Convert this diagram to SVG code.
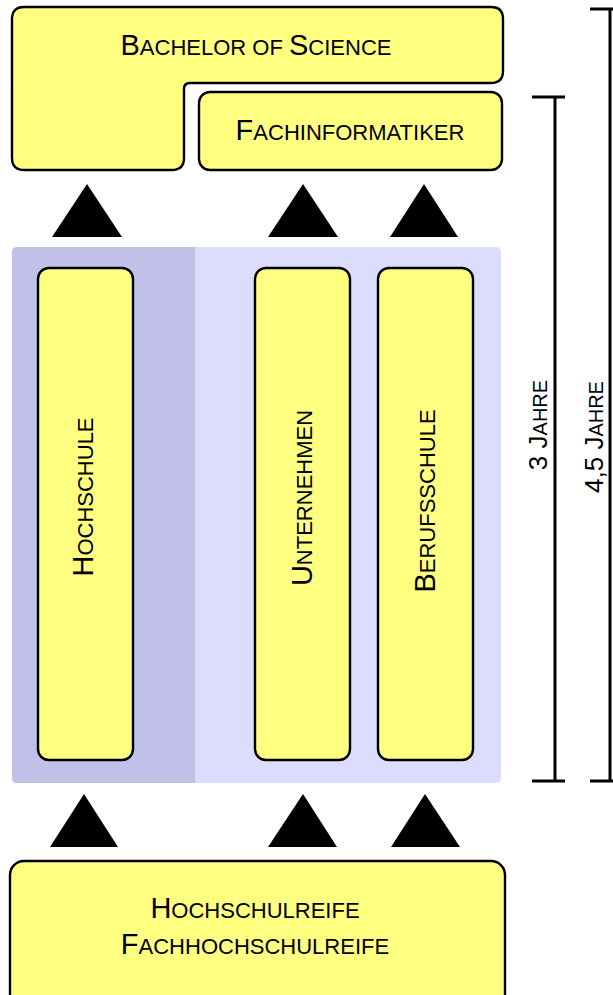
<svg xmlns="http://www.w3.org/2000/svg" width="613" height="995" viewBox="0 0 613 995">
<style>
.box{fill:#ffff80;stroke:#000;stroke-width:2.4}
.t{font-family:"Liberation Sans",Arial,sans-serif;fill:#000;text-anchor:middle}
.L{font-size:29px}
.S{font-size:22px}
.jl{font-size:26px}
.js{font-size:20px}
.tri{fill:#000}
.br{stroke:#000;stroke-width:3;fill:none}
</style>
<rect width="613" height="995" fill="#fff"/>
<g id="panel">
<rect x="12" y="247" width="489" height="536" rx="5" fill="#dcdcfc"/>
<path d="M17,247 H195 V783 H17 Q12,783 12,778 V252 Q12,247 17,247 Z" fill="#c0c0e8"/>
</g>
<g id="bachelor">
<path class="box" d="M24,7 H491 Q503,7 503,19 V71 Q503,83 491,83 H190 Q184,83 184,89 V158 Q184,170 172,170 H24 Q12,170 12,158 V19 Q12,7 24,7 Z"/>
<text class="t" x="256" y="55"><tspan class="L">B</tspan><tspan class="S">ACHELOR OF </tspan><tspan class="L">S</tspan><tspan class="S">CIENCE</tspan></text>
</g>
<g id="fachinformatiker">
<rect class="box" x="199" y="92" width="303" height="78" rx="11"/>
<text class="t" x="350" y="140"><tspan class="L">F</tspan><tspan class="S">ACHINFORMATIKER</tspan></text>
</g>
<g id="hochschule">
<rect class="box" x="38" y="268" width="95" height="492" rx="11"/>
<text class="t" transform="translate(93,497) rotate(-90)"><tspan class="L">H</tspan><tspan class="S">OCHSCHULE</tspan></text>
</g>
<g id="unternehmen">
<rect class="box" x="255" y="268" width="95" height="492" rx="11"/>
<text class="t" transform="translate(312,498) rotate(-90)"><tspan class="L">U</tspan><tspan class="S">NTERNEHMEN</tspan></text>
</g>
<g id="berufsschule">
<rect class="box" x="378" y="268" width="95" height="492" rx="11"/>
<text class="t" transform="translate(435,501) rotate(-90)"><tspan class="L">B</tspan><tspan class="S">ERUFSSCHULE</tspan></text>
</g>
<g id="reife">
<rect class="box" x="10" y="861" width="495" height="150" rx="14"/>
<text class="t" x="255" y="918"><tspan class="L">H</tspan><tspan class="S">OCHSCHULREIFE</tspan></text>
<text class="t" x="255" y="954"><tspan class="L">F</tspan><tspan class="S">ACHHOCHSCHULREIFE</tspan></text>
</g>
<g id="connectors">
<polygon class="tri" points="52,237 87,184 122,237"/>
<polygon class="tri" points="268,237 303,184 338,237"/>
<polygon class="tri" points="390,237 424,184 458,237"/>
<polygon class="tri" points="50,847 84,794 118,847"/>
<polygon class="tri" points="268,847 303,794 337,847"/>
<polygon class="tri" points="391,847 425,794 460,847"/>
</g>
<g id="bracket3">
<path class="br" d="M532,97 H565 M555,97 V781 M532,781 H565"/>
<text class="t" transform="translate(547,425) rotate(-90)"><tspan class="jl">3 J</tspan><tspan class="js">AHRE</tspan></text>
</g>
<g id="bracket45">
<path class="br" d="M590,9 H613 M610,9 V781 M590,781 H613"/>
<text class="t" transform="translate(603,437) rotate(-90)"><tspan class="jl">4,5 J</tspan><tspan class="js">AHRE</tspan></text>
</g>
</svg>
